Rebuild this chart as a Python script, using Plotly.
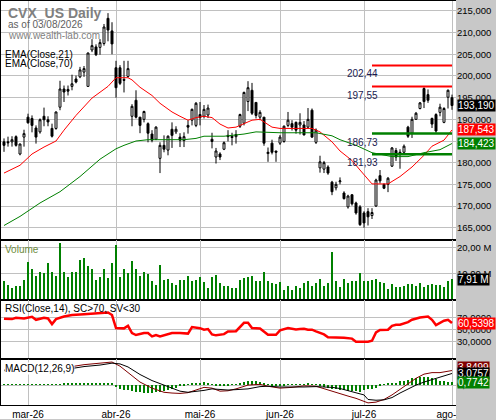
import pandas as pd
import plotly.graph_objects as go
from plotly.subplots import make_subplots

# trading days shown (US holidays removed)
holidays = ["2026-04-03", "2026-05-25", "2026-06-19", "2026-07-03"]
days = [d.strftime("%Y-%m-%d") for d in pd.bdate_range("2026-02-20", "2026-08-03")
        if d.strftime("%Y-%m-%d") not in holidays]

month_days = ["2026-03-02", "2026-04-01", "2026-05-01", "2026-06-01", "2026-07-01", "2026-08-03"]
month_labels = ["mar-26", "abr-26", "mai-26", "jun-26", "jul-26", "ago-26"]

opens = [184.8,184.8,184.8,186.0,182.0,185.9,190.5,190.2,188.0,187.1,
         190.7,189.9,187.9,187.9,192.8,197.0,196.9,197.6,199.3,199.8,
         200.9,197.6,206.0,206.7,206.6,207.5,213.3,210.4,201.9,201.9,
         199.2,199.9,190.7,194.4,190.5,190.0,189.0,186.6,185.4,181.0,
         184.0,182.9,187.7,187.1,185.9,185.1,188.6,189.8,188.6,191.1,
         190.7,191.0,185.4,181.3,182.0,183.1,186.3,186.1,186.0,188.4,
         189.1,194.1,196.7,193.9,190.5,190.5,182.1,184.5,182.7,184.5,
         184.9,188.6,189.0,189.3,188.7,188.7,188.2,192.1,184.7,178.8,
         178.5,179.0,175.5,174.2,175.6,173.0,169.8,172.6,170.7,169.8,
         168.4,168.7,167.8,170.0,177.0,175.0,175.0,179.2,182.8,182.4,
         182.4,188.2,186.8,190.0,192.5,197.1,195.7,190.2,191.1,191.6,
         189.3,195.1,195.0]
highs = [185.6,186.0,186.1,186.3,184.4,187.6,191.3,190.9,188.6,190.2,
         192.7,190.7,189.0,191.8,198.9,197.8,197.8,200.3,200.1,202.1,
         202.3,205.4,208.5,207.3,208.5,212.0,214.5,212.4,203.5,202.5,
         203.5,203.5,193.5,196.7,190.5,192.0,189.3,187.5,188.4,184.7,
         186.3,186.3,189.3,188.4,186.8,187.0,189.8,192.5,194.0,194.0,
         193.3,193.4,186.9,183.4,182.4,184.9,187.5,186.9,187.5,191.3,
         196.4,198.8,198.4,193.9,192.1,190.5,183.5,185.3,182.7,186.4,
         188.6,191.7,189.8,189.5,191.4,189.6,192.6,192.5,187.9,181.6,
         180.4,179.4,175.8,175.6,176.6,173.4,172.6,172.7,171.0,170.2,
         168.8,169.5,169.5,176.3,178.3,175.2,176.7,183.6,183.4,183.1,
         184.2,188.5,190.6,191.7,194.0,197.4,196.9,190.4,191.4,193.6,
         192.8,196.9,195.7]
lows = [182.5,183.7,183.7,183.7,181.7,183.7,189.0,187.0,184.4,186.7,
        188.4,188.4,185.8,187.6,192.1,194.0,195.5,196.7,198.3,199.5,
        199.8,197.5,205.5,204.6,204.9,207.0,208.0,205.0,195.0,197.9,
        196.2,199.6,188.4,190.2,186.8,189.3,184.7,184.7,185.2,177.6,
        182.4,181.7,183.4,186.6,183.6,183.6,186.7,188.6,188.2,188.6,
        190.2,190.3,183.3,179.8,180.6,182.9,184.9,184.0,184.4,188.0,
        188.6,191.9,191.0,190.2,189.8,183.9,180.2,181.9,180.2,184.1,
        184.6,188.2,187.4,186.7,186.5,186.3,187.9,185.7,184.3,177.7,
        177.6,177.2,172.5,173.6,175.0,171.5,169.4,170.1,168.0,165.4,
        165.0,165.5,167.0,169.8,175.2,173.9,173.2,179.0,180.4,178.6,
        182.2,185.7,185.7,189.9,192.3,192.6,193.8,188.0,186.9,190.7,
        189.1,192.5,192.2]
closes = [184.0,184.6,185.3,184.0,184.3,186.7,189.2,188.6,185.9,189.9,
          189.9,189.4,186.1,191.7,197.0,196.3,196.5,198.2,198.6,201.4,
          201.7,205.3,207.0,204.9,207.7,211.3,210.6,207.4,197.3,198.3,
          199.0,201.7,193.0,190.5,188.6,191.8,186.8,185.2,188.2,184.0,
          183.1,186.1,186.3,187.7,185.2,186.0,188.2,192.3,193.7,190.4,
          192.3,192.6,184.9,182.7,181.3,184.6,186.0,185.8,186.5,191.1,
          196.2,197.3,191.4,190.9,191.6,184.5,182.4,182.4,182.4,185.9,
          188.4,189.8,188.2,187.5,189.3,186.4,190.0,185.9,187.5,180.2,
          180.0,177.6,173.3,175.0,175.8,171.7,172.3,170.5,168.4,165.7,
          166.1,167.5,168.5,176.0,175.8,174.1,176.4,183.4,181.3,182.1,
          183.8,186.1,190.0,191.4,193.8,194.1,194.4,188.9,187.3,192.8,
          192.5,196.7,193.19]

# volume in millions
volume = [7.4,5.8,4.7,5.4,5.4,7.7,14.6,11.9,9.2,10.6,
          10.5,14.0,10.6,9.2,22.0,10.6,8.9,10.8,10.8,15.4,
          16.3,13.1,11.9,7.7,8.9,11.8,8.5,14.1,21.2,8.9,
          11.8,10.3,15.0,11.9,9.2,10.8,9.8,7.2,5.8,13.5,
          7.7,8.0,6.4,5.6,7.7,7.7,9.2,7.3,7.7,8.8,
          6.9,4.4,8.8,9.6,6.4,5.4,5.4,4.6,4.4,7.7,
          8.5,8.8,9.2,7.3,7.3,10.8,7.3,6.5,6.2,6.9,
          3.9,5.4,3.9,5.4,4.6,6.5,7.3,5.4,6.5,8.1,
          5.4,6.5,18.5,7.1,5.1,8.1,6.4,7.1,7.1,10.3,
          7.4,7.4,7.7,8.1,6.7,6.4,4.1,5.9,5.1,4.9,
          5.4,6.0,6.2,5.4,6.4,5.1,5.8,6.0,5.8,5.8,
          4.9,7.2,7.91]

# indicator lines read at these bar numbers (1 = first bar)
ema21_bar = [1,5,8,11,14,16,19,23,27,29,32,33,35,38,40,43,45,47,49,51,53,55,57,59,61,63,65,66,68,70,
             74,78,80,83,85,88,90,93,97,100,103,106,108,111,113]
ema21_val = [177.6,179.4,182.0,183.6,185.0,187.5,190.9,194.9,197.6,199.6,199.6,199.1,197.4,195.5,193.7,
             191.7,190.7,189.8,190.4,190.7,190.4,188.9,188.0,188.2,189.0,189.8,190.0,189.4,188.2,187.9,
             187.9,187.9,187.1,184.8,182.7,180.5,178.3,175.1,175.1,176.8,179.0,181.7,183.8,185.2,187.543]
ema70_bar = [1,5,10,15,20,25,29,31,34,37,46,49,51,56,61,64,70,79,83,85,89,93,98,102,106,110,113]
ema70_val = [165.5,167.6,170.7,173.3,176.8,180.8,183.2,184.0,185.0,185.3,185.3,185.6,186.1,186.1,186.6,
             187.1,186.9,186.9,186.2,185.3,184.0,182.3,181.4,181.4,182.3,183.0,184.423]

rsi_bar = [1,3,4,6,8,9,11,12,13,14,16,18,21,24,27,28,29,31,32,33,34,36,37,38,39,40,41,43,45,47,
           48,50,51,52,53,54,56,57,59,61,62,63,65,67,69,70,72,74,75,76,77,78,79,81,82,84,86,88,89,91,
           92,93,94,95,97,98,99,100,102,103,105,107,108,109,110,111,112,113]
rsi_val = [68.0,67.2,69.4,68.3,71.0,66.0,69.4,68.3,58.9,67.2,71.6,73.9,75.5,77.2,78.3,74.0,52.2,51.7,56.0,43.8,
           40.5,43.8,43.8,38.3,40.5,38.3,40.0,43.8,43.8,42.9,53.8,52.0,49.4,50.5,41.6,40.0,42.0,46.6,47.0,61.0,
           61.0,52.2,51.5,41.0,41.0,48.3,52.2,50.0,50.5,51.0,49.5,49.5,46.6,41.6,36.7,36.7,36.1,34.5,29.4,29.4,
           29.4,31.0,45.0,48.9,49.4,56.0,57.7,57.7,62.2,66.1,70.0,71.6,66.1,57.2,60.5,64.4,66.1,60.5398]

macd_bar = [1,5,10,14,18,21,25,28,30,32,35,38,41,43,45,47,49,51,53,55,57,59,62,65,67,70,73,76,79,81,
            83,85,87,89,91,92,94,96,98,100,102,104,106,108,110,112,113]
macd_val = [4.0,4.1,4.2,4.4,4.9,5.4,5.8,6.1,5.0,3.3,0.8,-0.8,-1.9,-2.1,-2.2,-2.0,-1.2,-0.6,-0.8,-1.6,
            -1.5,-1.0,0.0,0.2,-0.3,-0.8,-0.6,-0.2,-0.3,-1.0,-1.6,-2.2,-2.9,-3.5,-4.2,-4.7,-4.5,-3.8,-2.6,-1.2,
            0.3,1.8,2.9,3.3,3.3,3.6,3.8499]
signal_val = [3.8,3.9,4.0,4.2,4.4,4.9,5.3,5.8,5.6,4.8,2.8,1.2,0.0,-0.8,-1.6,-1.9,-1.7,-1.4,-1.0,-1.2,
              -1.3,-1.2,-1.0,-0.4,-0.3,-0.5,-0.6,-0.5,-0.4,-0.5,-0.6,-0.9,-1.4,-1.9,-2.6,-3.8,-4.0,-3.9,-3.3,-2.1,
              -1.0,0.0,0.8,1.5,2.2,2.8,3.0757]
hist = [0.2,0.2,0.1,0.2,0.2,0.2,0.1,0.2,0.2,0.2,
        0.2,0.2,0.2,0.1,0.1,0.3,0.4,0.4,0.4,0.5,
        0.5,0.5,0.5,0.6,0.6,0.6,0.6,0.3,-0.6,-1.0,
        -1.3,-1.4,-1.6,-1.8,-2.0,-2.2,-2.2,-2.2,-2.0,-1.9,
        -1.7,-1.4,-1.2,-0.8,-0.4,-0.1,0.2,0.3,0.6,0.6,
        0.8,0.6,0.1,-0.2,-0.3,-0.2,-0.1,0.1,0.1,0.3,
        0.7,1.1,1.1,0.9,0.7,0.4,0.1,-0.1,-0.2,-0.2,
        -0.1,0.1,0.1,0.1,0.1,0.2,0.3,0.2,0.1,-0.3,
        -0.5,-0.7,-1.0,-1.1,-1.3,-1.4,-1.5,-1.6,-1.6,-1.8,
        -1.4,-1.2,-1.0,-0.7,-0.4,0.1,0.3,0.5,0.6,0.9,
        1.1,1.4,1.7,1.9,2.1,2.2,2.1,1.8,1.5,1.1,
        0.9,0.8,0.7742]

# support / resistance levels drawn from this day to the last bar
level_start = "2026-07-06"
resist_levels = [202.44, 197.55]
support_levels = [186.73, 181.93]

price_ticks = [165, 170, 175, 180, 185, 190, 195, 200, 205, 210, 215]
vol_ticks = [10, 20]
rsi_ticks = [30, 50, 70]
rsi_bands = [30, 70]

FONT = "Liberation Sans"
GREEN = "#008000"
GRAY = "#C8C8C8"


def at(bars):
    return [days[b - 1] for b in bars]


def comma(v, nd):
    return f"{v:.{nd}f}".replace(".", ",")


fig = make_subplots(rows=4, cols=1, shared_xaxes=True, vertical_spacing=0,
                    row_heights=[240, 60, 60, 46])

fig.add_trace(go.Candlestick(
    x=days, open=opens, high=highs, low=lows, close=closes,
    increasing=dict(line=dict(color="black", width=1), fillcolor="white"),
    decreasing=dict(line=dict(color="black", width=1), fillcolor="black"),
    whiskerwidth=0), row=1, col=1)
fig.add_trace(go.Scatter(x=at(ema21_bar), y=ema21_val, mode="lines",
                         line=dict(color="#FF0000", width=1)), row=1, col=1)
fig.add_trace(go.Scatter(x=at(ema70_bar), y=ema70_val, mode="lines",
                         line=dict(color=GREEN, width=1)), row=1, col=1)
for lv in resist_levels:
    fig.add_trace(go.Scatter(x=[level_start, days[-1]], y=[lv, lv], mode="lines",
                             line=dict(color="#FF0000", width=2)), row=1, col=1)
for lv in support_levels:
    fig.add_trace(go.Scatter(x=[level_start, days[-1]], y=[lv, lv], mode="lines",
                             line=dict(color=GREEN, width=2.5)), row=1, col=1)

fig.add_trace(go.Bar(x=days, y=volume, width=0.5, marker=dict(color=GREEN, line=dict(width=0))),
              row=2, col=1)

fig.add_trace(go.Scatter(x=at(rsi_bar), y=rsi_val, mode="lines",
                         line=dict(color="#FF0000", width=2.5)), row=3, col=1)

fig.add_trace(go.Bar(x=days, y=hist, width=0.25, marker=dict(color=GREEN, line=dict(width=0))),
              row=4, col=1)
fig.add_trace(go.Scatter(x=at(macd_bar), y=macd_val, mode="lines",
                         line=dict(color="#800000", width=1)), row=4, col=1)
fig.add_trace(go.Scatter(x=at(macd_bar), y=signal_val, mode="lines",
                         line=dict(color="black", width=1)), row=4, col=1)

for b in rsi_bands:
    fig.add_hline(y=b, line=dict(color=GREEN, width=1.5), row=3, col=1)

fig.update_xaxes(type="category", categoryorder="array", categoryarray=days,
                 range=[-1, len(days)], showgrid=True, gridcolor="#C0C0C0", gridwidth=1,
                 tickvals=month_days, ticktext=month_labels, ticks="",
                 showline=True, mirror=True, linecolor="black", linewidth=1,
                 rangeslider_visible=False, showticklabels=False,
                 tickfont=dict(family=FONT, size=10, color="black"))
fig.update_xaxes(showticklabels=True, row=4, col=1)

yax = dict(side="right", showgrid=True, gridcolor="#C0C0C0", gridwidth=1, zeroline=False,
           ticks="", showline=False, tickfont=dict(family=FONT, size=9.5, color="black"))
fig.update_yaxes(range=[162.2, 217.3], tickvals=price_ticks,
                 ticktext=[comma(v, 3) for v in price_ticks], row=1, col=1, **yax)
fig.update_yaxes(range=[0, 23.08], tickvals=vol_ticks,
                 ticktext=[comma(v, 2) + " M" for v in vol_ticks], row=2, col=1, **yax)
fig.update_yaxes(range=[0, 100], tickvals=rsi_ticks,
                 ticktext=[comma(v, 4) for v in rsi_ticks], row=3, col=1, **yax)
fig.update_yaxes(range=[-5.26, 6.84], tickvals=[0], ticktext=[comma(0, 4)], row=4, col=1, **yax)

ann = []


def txt(text, y, yref, shift, size=10, color="black", bold=False, x=4, bg=None):
    ann.append(dict(text=f"<b>{text}</b>" if bold else text, xref="paper", x=0, xshift=x,
                    xanchor="left", yref=yref, y=y, yshift=shift, yanchor="middle",
                    showarrow=False, font=dict(family=FONT, size=size, color=color),
                    bgcolor=bg, borderpad=0))


txt("CVX_US Daily", 1, "y domain", -12, size=14, color="#808080", bold=True, x=7)
txt("as of 03/08/2026", 1, "y domain", -23.5, size=10, color="#606060", x=7)
txt("www.wealth-lab.com", 1, "y domain", -34.5, size=10, color="#808080", x=7)
txt("EMA(Close,21)", 1, "y domain", -53.5, size=10)
txt("EMA(Close,70)", 1, "y domain", -62.5, size=10)
txt("Volume", 1, "y2 domain", -9.5, size=10, color="#6E8B3D")
txt("RSI(Close,14), SC>70, SV<30", 1, "y3 domain", -9, size=10)
txt("MACD(12,26,9)", 1, "y4 domain", -9, size=10, bg="white")

level_x = days.index(level_start)
for lv in resist_levels + support_levels:
    ann.append(dict(text=comma(lv, 2), xref="x", x=level_x, xanchor="right", xshift=8,
                    yref="y", y=lv, yanchor="top", yshift=-1, showarrow=False,
                    font=dict(family=FONT, size=10, color="#1A1A50")))


def tag(text, y, yref, bg, shift=0):
    ann.append(dict(text=text, xref="paper", x=1, xanchor="left", xshift=1,
                    yref=yref, y=y, yanchor="middle", yshift=shift, showarrow=False,
                    font=dict(family=FONT, size=10, color="white"), bgcolor=bg, borderpad=0))


tag(comma(closes[-1], 3), closes[-1], "y", "black")
tag(comma(ema21_val[-1], 3), ema21_val[-1], "y", "#FF0000")
tag(comma(ema70_val[-1], 3), ema70_val[-1], "y", GREEN)
tag(comma(volume[-1], 2) + " M", volume[-1], "y2", "black")
tag(comma(rsi_val[-1], 4), rsi_val[-1], "y3", "#FF0000")
tag(comma(macd_val[-1], 4), macd_val[-1], "y4", "#800000", shift=3)
tag(comma(signal_val[-1], 4), signal_val[-1], "y4", "black")
tag(comma(hist[-1], 4), hist[-1], "y4", GREEN)

# gray block over the right end of the date strip, so the last month label is cut like the original
ann.append(dict(text="", xref="paper", x=1, xanchor="left", yref="paper", y=0, yanchor="top",
                width=40, height=16, bgcolor=GRAY, showarrow=False, borderpad=0))

fig.update_layout(
    width=496, height=420, margin=dict(l=0, r=40, t=0, b=14),
    paper_bgcolor=GRAY, plot_bgcolor="white", showlegend=False, hovermode=False,
    bargap=0, annotations=ann,
    shapes=[
        dict(type="rect", xref="paper", yref="paper", x0=0, x1=1, y0=-14 / 406, y1=0,
             fillcolor="white", line=dict(width=0), layer="below"),
        dict(type="line", xref="paper", yref="paper", x0=0, x1=0, y0=0, y1=1,
             line=dict(color="black", width=2), layer="above"),
    ],
)

# the page's default body margin would push the 496x420 figure out of the window
fig.write_html("out.html", config={"displayModeBar": False},
               post_script="document.body.style.margin='0';")
